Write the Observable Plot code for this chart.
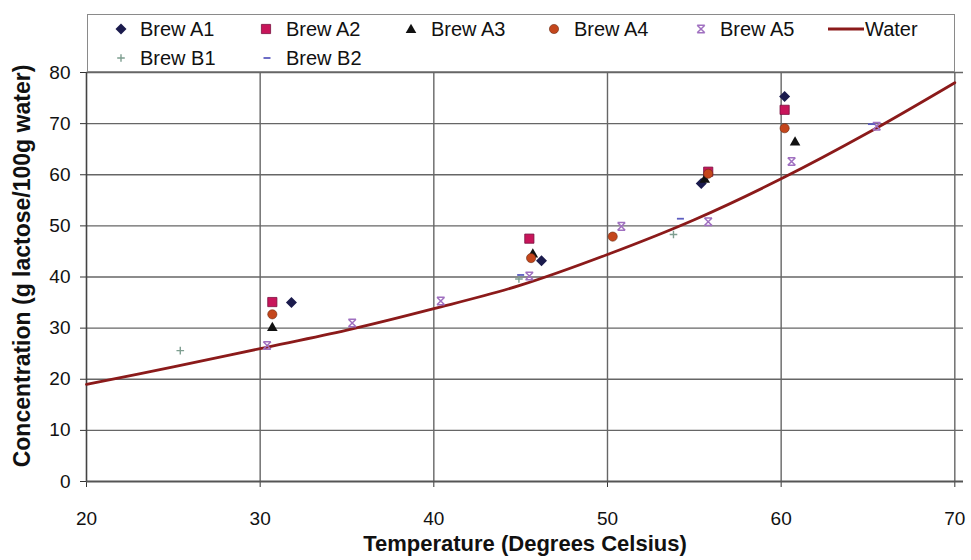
<!DOCTYPE html>
<html>
<head>
<meta charset="utf-8">
<script src="https://cdn.jsdelivr.net/npm/d3@7"></script>
<script src="https://cdn.jsdelivr.net/npm/@observablehq/plot@0.6"></script>
<style>
  body { margin: 0; background: white; font-family: Arial, "Liberation Sans", sans-serif; }
  #wrap { width: 971px; height: 560px; position: relative; overflow: hidden; }
  #legend { position: relative; height: 64px; }
  #legbox { position: absolute; left: 87px; top: 14px; width: 866px; height: 56px; border: 1.5px solid #8a8a8a; background: white; z-index: 2; }
  .li { position: absolute; font-size: 20px; color: #111; line-height: 22px; white-space: nowrap; }
  .lm { position: absolute; }
</style>
</head>
<body>
<div id="wrap">
  <div id="legend"><div id="legbox"></div></div>
  <div id="chart"></div>
</div>
<script>
// ---- data ----
const xTicks = [20, 30, 40, 50, 60, 70];
const yTicks = [0, 10, 20, 30, 40, 50, 60, 70, 80];

const waterT = [20, 25, 30, 35, 40, 45, 50, 55, 60, 65, 70];
const waterC = [19.0, 22.4, 26.0, 29.6, 33.8, 38.4, 44.4, 51.2, 59.2, 68.2, 78.0];

const a1T = [31.8, 46.2, 55.4, 60.2];
const a1C = [35.0, 43.2, 58.3, 75.3];
const a2T = [30.7, 45.5, 55.8, 60.2];
const a2C = [35.1, 47.5, 60.6, 72.7];
const a3T = [30.7, 45.7, 55.6, 60.8];
const a3C = [30.2, 44.6, 59.2, 66.5];
const a4T = [30.7, 45.6, 50.3, 55.8, 60.2];
const a4C = [32.7, 43.7, 47.9, 60.2, 69.1];
const a5T = [30.4, 35.3, 40.4, 45.5, 50.8, 55.8, 60.6, 65.5];
const a5C = [26.6, 31.0, 35.3, 40.2, 49.9, 50.8, 62.6, 69.5];
const b1T = [25.4, 44.9, 53.8];
const b1C = [25.6, 39.6, 48.3];
const b2T = [45.0, 54.2, 65.2];
const b2C = [40.4, 51.4, 69.9];

const seriesNames = ["Brew A1", "Brew A2", "Brew A3", "Brew A4", "Brew A5", "Water", "Brew B1", "Brew B2"];

// ---- custom symbols (r = Plot radius) ----
const R = s => Math.sqrt(s / Math.PI);
const symDiamond = { draw(c, s) { const r = R(s); c.moveTo(0, -r); c.lineTo(r, 0); c.lineTo(0, r); c.lineTo(-r, 0); c.closePath(); } };
const symSquare = { draw(c, s) { const r = R(s); c.rect(-r, -r, 2 * r, 2 * r); } };
const symTri = { draw(c, s) { const r = R(s); c.moveTo(0, -r); c.lineTo(r, r * 0.75); c.lineTo(-r, r * 0.75); c.closePath(); } };
const symCircle = { draw(c, s) { const r = R(s); c.moveTo(r, 0); c.arc(0, 0, r, 0, 2 * Math.PI); } };
const symStar = { draw(c, s) { const r = R(s); c.moveTo(-r, -r); c.lineTo(r, r); c.moveTo(r, -r); c.lineTo(-r, r); c.moveTo(-r, -r); c.lineTo(r, -r); c.moveTo(-r, r); c.lineTo(r, r); } };
const symPlus = { draw(c, s) { const r = R(s); c.moveTo(-r, 0); c.lineTo(r, 0); c.moveTo(0, -r); c.lineTo(0, r); } };
const symDash = { draw(c, s) { const r = R(s); c.moveTo(-r, 0); c.lineTo(r, 0); } };

const styles = {
  "Brew A1": { symbol: symDiamond, r: 5.5, fill: "#1b1b4d", stroke: "none", sw: 0 },
  "Brew A2": { symbol: symSquare, r: 4.6, fill: "#c8155a", stroke: "#7a1040", sw: 0.8 },
  "Brew A3": { symbol: symTri, r: 5.3, fill: "#111111", stroke: "none", sw: 0 },
  "Brew A4": { symbol: symCircle, r: 4.6, fill: "#c4461c", stroke: "#6a2a10", sw: 0.6 },
  "Brew A5": { symbol: symStar, r: 3.8, fill: "none", stroke: "#a070c0", sw: 1.5 },
  "Brew B1": { symbol: symPlus, r: 3.8, fill: "none", stroke: "#7e9e90", sw: 1.4 },
  "Brew B2": { symbol: symDash, r: 3.5, fill: "none", stroke: "#5d5dc0", sw: 1.8 }
};

const zip = (t, c) => t.map((v, i) => ({ t: v, c: c[i] }));
const water = zip(waterT, waterC);
const pts = {
  "Brew A1": zip(a1T, a1C), "Brew A2": zip(a2T, a2C), "Brew A3": zip(a3T, a3C),
  "Brew A4": zip(a4T, a4C), "Brew A5": zip(a5T, a5C), "Brew B1": zip(b1T, b1C), "Brew B2": zip(b2T, b2C)
};

const gridColor = "#666666";
const dotMarks = ["Brew A1", "Brew A2", "Brew A3", "Brew A4", "Brew A5", "Brew B1", "Brew B2"].map(n => {
  const st = styles[n];
  return Plot.dot(pts[n], { x: "t", y: "c", symbol: st.symbol, r: st.r, fill: st.fill, stroke: st.stroke, strokeWidth: st.sw });
});

const chart = Plot.plot({
  width: 971, height: 496,
  marginTop: 8, marginLeft: 86, marginRight: 8, marginBottom: 79,
  style: { fontFamily: "Arial, 'Liberation Sans', sans-serif", fontSize: "19px", color: "#111", background: "white", overflow: "visible" },
  x: { domain: [20, 70.5] },
  y: { domain: [0, 80] },
  marks: [
    Plot.gridX(xTicks.filter(d => d > 20), { stroke: gridColor, strokeOpacity: 1, strokeWidth: 1.4 }),
    Plot.gridY(yTicks.filter(d => d > 0), { stroke: gridColor, strokeOpacity: 1, strokeWidth: 1.4 }),
    Plot.axisX({ ticks: xTicks, tickSize: 6, tickPadding: 24, label: null, stroke: "#333" }),
    Plot.axisY({ ticks: yTicks, tickSize: 6, tickPadding: 10, label: null, stroke: "#333" }),
    Plot.ruleX([20], { stroke: "#444", strokeWidth: 1.6 }),
    Plot.ruleY([0], { stroke: "#555", strokeWidth: 2 }),
    Plot.line(water, { x: "t", y: "c", stroke: "#8b1a1a", strokeWidth: 2.8, curve: "catmull-rom" }),
    ...dotMarks,
    Plot.text(["Temperature (Degrees Celsius)"], { frameAnchor: "bottom", dy: 69, fontWeight: "bold", fontSize: 22, fill: "#111" }),
    Plot.text(["Concentration (g lactose/100g water)"], { frameAnchor: "left", textAnchor: "middle", dx: -64, dy: -11, rotate: -90, fontWeight: "bold", fontSize: 23, fill: "#111" })
  ]
});
document.getElementById("chart").appendChild(chart);

// ---- legend (HTML above the chart) ----
const box = d3.select("#legbox");
// positions relative to legend box (marker centre x, text left x, row centre y)
const legendPos = {
  "Brew A1": [33, 52, 14], "Brew A2": [178, 198, 14], "Brew A3": [323, 343, 14],
  "Brew A4": [466, 486, 14], "Brew A5": [613, 632, 14], "Water": [null, 777, 14],
  "Brew B1": [33, 52, 43], "Brew B2": [179, 198, 43]
};
seriesNames.forEach(n => {
  const [mx, tx, cy] = legendPos[n];
  if (n === "Water") {
    box.append("svg").attr("class", "lm").style("left", "740px").style("top", (cy - 3) + "px")
      .attr("width", 36).attr("height", 6)
      .append("line").attr("x1", 0).attr("x2", 36).attr("y1", 3).attr("y2", 3)
      .attr("stroke", "#8b1a1a").attr("stroke-width", 3);
  } else {
    const st = styles[n];
    const size = Math.PI * st.r * st.r;
    box.append("svg").attr("class", "lm").style("left", (mx - 8) + "px").style("top", (cy - 8) + "px")
      .attr("width", 16).attr("height", 16)
      .append("path").attr("transform", "translate(8,8)")
      .attr("d", d3.symbol(st.symbol, size)())
      .attr("fill", st.fill).attr("stroke", st.stroke === "none" ? null : st.stroke).attr("stroke-width", st.sw);
  }
  box.append("div").attr("class", "li").style("left", tx + "px").style("top", (cy - 11) + "px").text(n);
});
</script>
</body>
</html>
